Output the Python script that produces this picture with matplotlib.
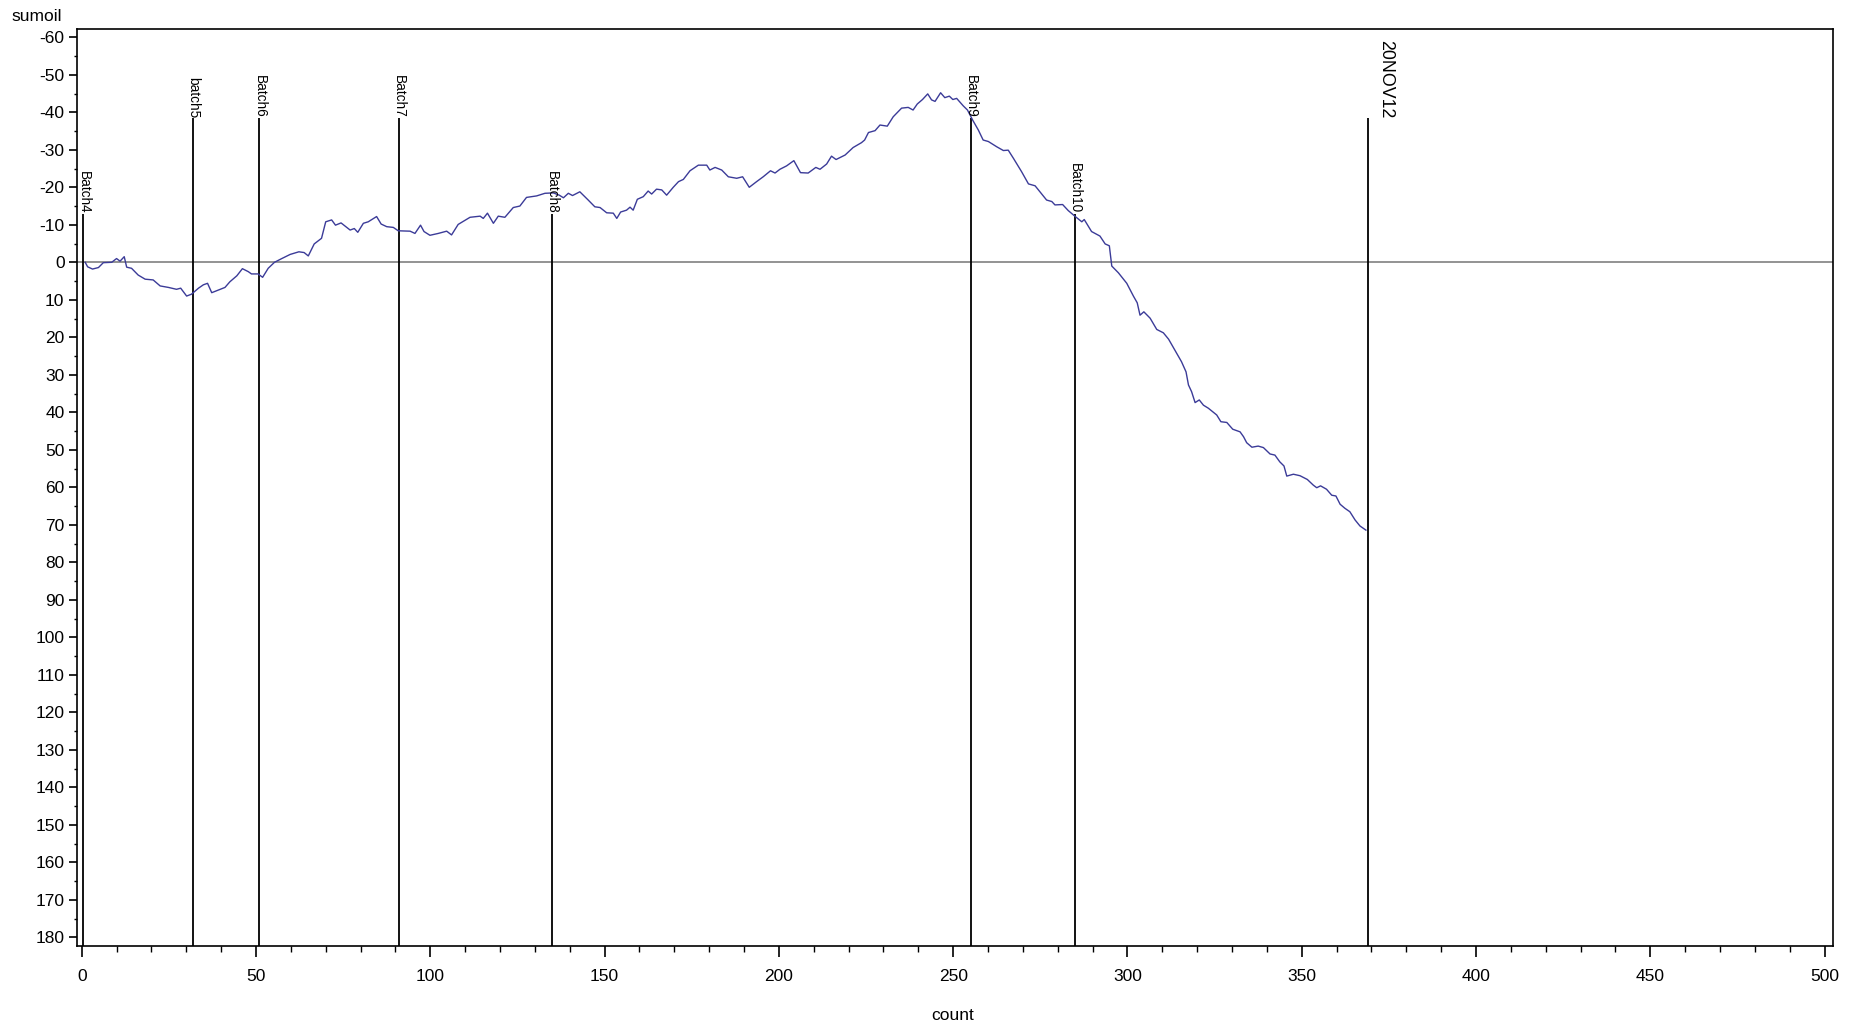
import matplotlib
matplotlib.use("Agg")
import matplotlib.pyplot as plt
from matplotlib.ticker import MultipleLocator

plt.rcParams['font.family'] = ['Liberation Sans', 'DejaVu Sans']
plt.rcParams['axes.unicode_minus'] = False

# cumulative sum curve, vertices
count = [1, 1.7, 3.1, 4.8, 6.2, 8.6, 10.0, 11.0, 12.2, 12.9, 14.3, 16.2, 18.2, 20.5,
         22.5, 24.9, 27.2, 28.4, 30.1, 31.5, 33.5, 34.9, 36.1, 37.3, 39.2, 41.1, 42.5,
         44.5, 46.1, 47.8, 48.7, 50.6, 51.9, 53.5, 55.3, 57.4, 59.8, 62.3, 63.8, 65.0,
         66.7, 68.8, 70.0, 71.7, 72.8, 74.4, 77.0, 78.2, 79.2, 80.8, 82.2, 84.6, 85.9,
         87.5, 89.4, 90.8, 94.2, 95.6, 97.2, 98.2, 99.9, 102.3, 104.7, 106.1, 108.0,
         111.4, 114.3, 115.2, 116.4, 118.1, 119.5, 121.4, 123.8, 125.7, 127.6, 130.5,
         132.9, 135.3, 137.0, 138.2, 139.6, 140.8, 142.9, 143.9, 145.3, 147.2, 148.7,
         150.6, 152.5, 153.5, 154.6, 156.3, 157.3, 158.2, 159.4, 161.1, 162.5, 163.5,
         164.9, 166.4, 167.8, 169.7, 171.2, 172.6, 174.5, 176.9, 179.3, 180.2, 181.7,
         183.6, 185.5, 187.9, 189.6, 191.5, 193.6, 195.5, 197.6, 198.9, 200.3, 202.2,
         204.3, 206.2, 208.4, 210.6, 211.8, 213.7, 215.1, 216.4, 219.0, 221.3, 223.7,
         224.6, 225.7, 227.6, 229.0, 231.1, 232.8, 235.2, 237.1, 238.5, 239.7, 241.2,
         242.7, 243.8, 244.8, 246.4, 247.6, 248.9, 249.9, 251.0, 252.9, 254.1, 255.6,
         257.2, 258.6, 260.1, 262.5, 264.4, 265.8, 267.3, 269.6, 271.6, 273.5, 274.9,
         276.8, 278.3, 279.2, 281.4, 283.0, 284.9, 286.9, 287.6, 289.7, 292.1, 293.6,
         294.8, 295.5, 297.4, 299.8, 301.7, 302.8, 303.6, 304.7, 306.5, 308.4, 310.3,
         311.8, 313.6, 315.5, 316.8, 317.5, 318.4, 319.4, 320.6, 321.8, 323.2, 324.4,
         325.6, 326.8, 328.5, 330.2, 332.3, 333.3, 334.2, 335.7, 337.5, 339.0, 340.9,
         342.3, 343.7, 344.9, 345.7, 347.6, 349.5, 351.6, 353.3, 354.3, 355.4, 357.1,
         358.6, 359.8, 361.0, 362.4, 363.8, 365.3, 366.7, 368.4]
sumoil = [0, 1.2, 1.8, 1.4, 0.1, 0, -1.0, -0.3, -1.5, 1.3, 1.6, 3.4, 4.5, 4.7,
          6.3, 6.7, 7.2, 6.9, 9.0, 8.5, 6.9, 6.0, 5.6, 8.1, 7.4, 6.7, 5.2,
          3.6, 1.7, 2.5, 3.1, 3.1, 4.0, 1.6, 0, -1.0, -2.1, -2.8, -2.6, -1.7,
          -4.9, -6.4, -10.8, -11.3, -9.9, -10.5, -8.6, -9.0, -8.0, -10.4, -10.8, -12.2, -10.2,
          -9.5, -9.3, -8.4, -8.3, -7.7, -9.9, -8.2, -7.2, -7.7, -8.3, -7.3, -10.1,
          -12.0, -12.3, -11.7, -13.1, -10.4, -12.3, -12.0, -14.6, -15.0, -17.3, -17.7,
          -18.4, -18.5, -17.9, -17.2, -18.4, -17.8, -18.8, -17.9, -16.6, -14.8, -14.6,
          -13.2, -13.1, -11.7, -13.4, -13.9, -14.7, -13.9, -16.8, -17.5, -19.0, -18.2,
          -19.5, -19.3, -17.9, -20.0, -21.5, -22.1, -24.4, -25.9, -25.9, -24.6, -25.3,
          -24.6, -22.8, -22.4, -22.8, -20.0, -21.5, -22.8, -24.4, -23.8, -24.8, -25.7,
          -27.1, -23.9, -23.8, -25.3, -24.8, -26.2, -28.3, -27.4, -28.6, -30.6, -31.9,
          -32.6, -34.6, -35.1, -36.6, -36.3, -38.8, -41.1, -41.3, -40.6, -42.2, -43.4,
          -44.9, -43.3, -42.9, -45.2, -43.9, -44.3, -43.4, -43.7, -41.7, -40.6, -37.9,
          -35.3, -32.6, -32.2, -30.8, -29.8, -29.9, -27.7, -24.2, -20.9, -20.4, -18.8,
          -16.6, -16.2, -15.3, -15.4, -13.8, -12.3, -10.8, -11.4, -8.2, -7.0, -4.9,
          -4.4, 1.0, 2.8, 5.6, 9.0, 10.8, 14.1, 13.2, 14.9, 17.9, 18.8,
          20.5, 23.4, 26.5, 29.2, 32.7, 34.5, 37.4, 36.7, 38.1, 38.9, 39.8,
          40.7, 42.5, 42.7, 44.5, 45.2, 46.5, 48.1, 49.3, 49.0, 49.4, 51.1,
          51.4, 53.2, 54.3, 57.0, 56.5, 56.9, 57.9, 59.4, 60.1, 59.6, 60.5,
          62.1, 62.3, 64.5, 65.6, 66.5, 68.7, 70.3, 71.4]

# batch reference lines
batch_names = ['Batch4', 'batch5', 'Batch6', 'Batch7', 'Batch8', 'Batch9', 'Batch10']
batch_count = [0.5, 32, 51, 91, 135, 255, 285]
batch_top = [-13, -38.5, -38.5, -38.5, -13, -38.5, -13]

date_label = '20NOV12'
date_count = 369
date_top = -38.5

W, H = 1857, 1028
fig = plt.figure(figsize=(W / 100, H / 100), dpi=100)
ax = fig.add_axes([77 / W, 1 - 945.7 / H, (1833 - 77) / W, (945.7 - 29) / H])

ymin, ymax = -62.2, 182.2
ax.set_xlim(-1.35, 502.4)
ax.set_ylim(ymax, ymin)

ax.axhline(0, color='#808080', lw=1.2, zorder=1)
ax.plot(count, sumoil, color='#3B3B98', lw=1.0, zorder=3)

for name, c, top in zip(batch_names, batch_count, batch_top):
    ax.vlines(c, top, ymax, color='black', lw=1.3, zorder=2)
    ax.text(c, top, name, rotation=270, ha='center', va='bottom', fontsize=9.8)

ax.vlines(date_count, date_top, ymax, color='black', lw=1.3, zorder=2)
ax.text(date_count + 2.6, date_top, date_label, rotation=270, ha='left', va='bottom',
        fontsize=12.8)

ax.xaxis.set_major_locator(MultipleLocator(50))
ax.xaxis.set_minor_locator(MultipleLocator(10))
ax.yaxis.set_major_locator(MultipleLocator(10))
ax.yaxis.set_minor_locator(MultipleLocator(5))
ax.tick_params(axis='x', which='major', length=8, width=1.2, pad=9, labelsize=12.5)
ax.tick_params(axis='x', which='minor', length=4.5, width=1.0)
ax.tick_params(axis='y', which='major', length=5.5, width=1.2, pad=3.5, labelsize=12.5)
ax.tick_params(axis='y', which='minor', length=2.5, width=1.0)
for s in ax.spines.values():
    s.set_linewidth(1.2)

fig.text(11 / W, 1 - 16.7 / H, 'sumoil', ha='left', va='center', fontsize=12.5)
fig.text(953 / W, 1 - 1015 / H, 'count', ha='center', va='center', fontsize=12.5)

fig.savefig('out.png', dpi=100)
